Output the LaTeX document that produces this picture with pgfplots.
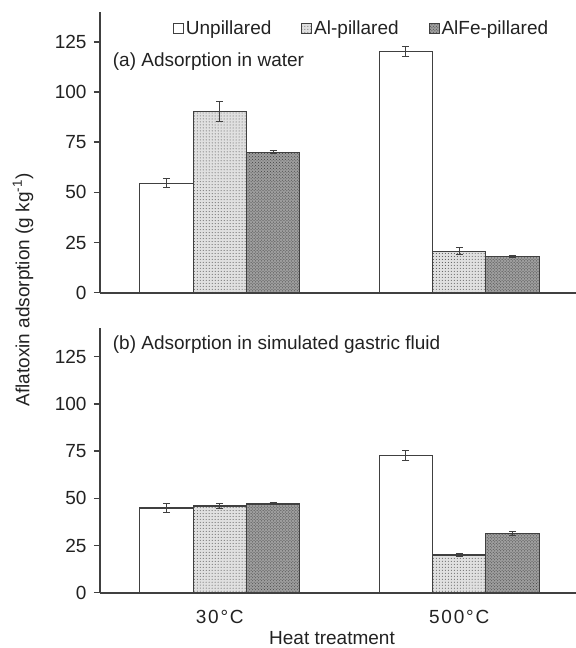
\documentclass[border=0pt]{standalone}
\usepackage{fontspec}
\setmainfont{Liberation Sans}
\usepackage{pgfplots}
\pgfplotsset{compat=1.18}
\usetikzlibrary{patterns}
\definecolor{axc}{HTML}{404040}
\definecolor{txc}{HTML}{222222}
\newcommand{\fs}{\fontsize{19bp}{22bp}\selectfont}
\newcommand{\ks}{\kern1.8bp}
\pgfplotsset{
  panel/.style={
    scale only axis, width=479bp,
    xmin=-0.5, xmax=1.5, ymin=0, ymax=140,
    axis x line*=bottom, axis y line*=left,
    axis line style={axc, line width=1.8bp, -},
    ytick={0,25,...,125},
    xtick={0,1},
    major tick length=6bp,
    tick align=outside,
    y tick style={axc, line width=1.5bp},
    x tick style={draw=none},
    ybar=0pt, bar width=0.2225,
    tick label style={font=\fs, text=txc},
    yticklabel style={xshift=-4bp},
    xticklabel style={yshift=-8bp},
    /pgf/number format/assume math mode=true,
    clip=false,
  },
  unp/.style={draw=axc, line width=1.2bp, fill=white},
  alp/.style={draw=axc, line width=1.2bp, fill=black!12, postaction={pattern=dots, pattern color=black!70}},
  alfe/.style={draw=axc, line width=1.2bp, fill=black!38, postaction={pattern=crosshatch dots, pattern color=black!75}},
  eb/.style={error bars/.cd, y dir=both, y explicit,
    error bar style={axc, line width=1bp},
    error mark options={rotate=90, mark size=3.5bp, axc, line width=1bp}},
}
\begin{document}
\begin{tikzpicture}
\useasboundingbox (0,0) rectangle (576bp,648bp);
% ---------- top panel ----------
\begin{axis}[panel, at={(100bp,355.3bp)}, anchor=south west, height=281bp,
  xticklabels={},
  legend columns=3,
  legend style={draw=none, fill=none, at={(0.146,0.941)}, anchor=west, font=\fs, text=txc,
    /tikz/every even column/.append style={column sep=28bp}},
  legend image code/.code={\draw[#1, line width=0.8bp] (0bp,-5bp) rectangle (10bp,5bp);},
]
\addplot[unp, eb] coordinates {(0,54.6) +- (0,2.1) (1,120.1) +- (0,2.6)};
\addplot[alp, eb] coordinates {(0,90.4) +- (0,5.0) (1,20.7) +- (0,1.6)};
\addplot[alfe, eb] coordinates {(0,70.0) +- (0,0.8) (1,18.2) +- (0,0.5)};
\legend{Unpillared, Al-pillared, AlFe-pillared}
\node[anchor=west, inner sep=0pt, font=\fs, text=txc] at (rel axis cs:0.0265,0.822) {(a) Adsorption in water};
\end{axis}
% ---------- bottom panel ----------
\begin{axis}[panel, at={(100bp,55.3bp)}, anchor=south west, height=264.4bp,
  xticklabels={3\ks 0\ks°\ks C, 5\ks 0\ks 0\ks°\ks C},
]
\addplot[unp, eb] coordinates {(0,44.9) +- (0,2.2) (1,72.5) +- (0,2.6)};
\addplot[alp, eb] coordinates {(0,45.9) +- (0,1.5) (1,20.0) +- (0,0.7)};
\addplot[alfe, eb] coordinates {(0,47.0) +- (0,0.5) (1,31.3) +- (0,1.2)};
\node[anchor=west, inner sep=0pt, font=\fs, text=txc] at (rel axis cs:0.0265,0.937) {(b) Adsorption in simulated gastric fluid};
\end{axis}
\node[font=\fs, text=txc] at (332bp,10bp) {Heat treatment};
\node[rotate=90, font=\fs, text=txc] at (23bp,358bp) {Aflatoxin adsorption (g kg\textsuperscript{-1})};
\end{tikzpicture}
\end{document}
